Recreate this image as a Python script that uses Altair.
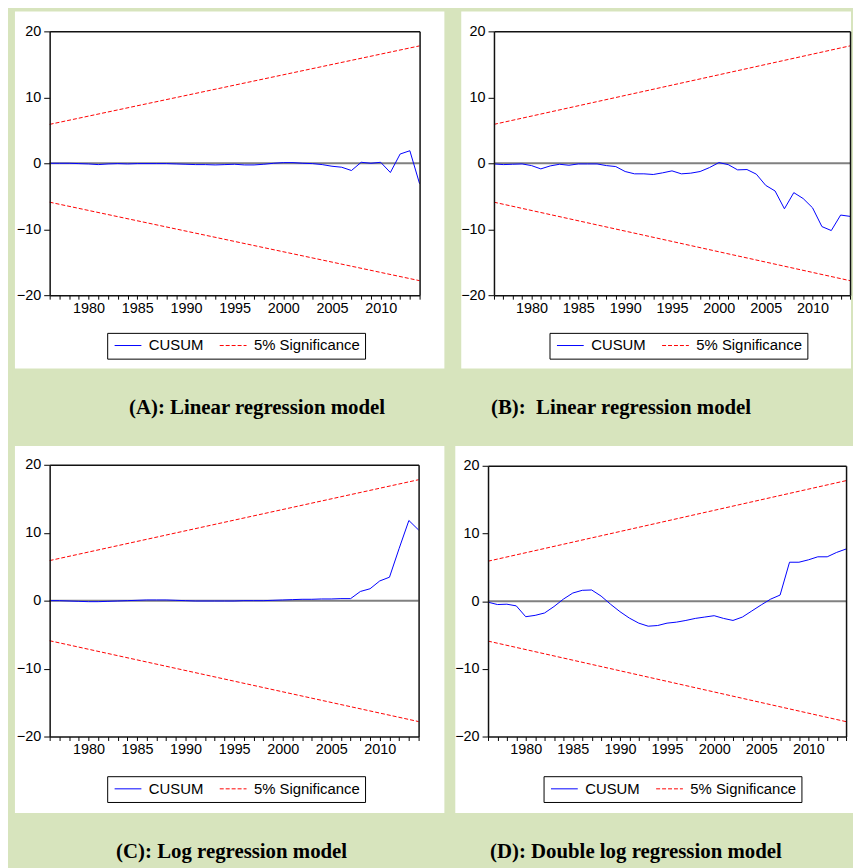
import altair as alt
import pandas as pd

GREEN = "#d7e4bd"
FRAME = "#111111"

years = list(range(1976, 2015))

cusum_a = [0.0, 0.0, 0.0, -0.05, -0.1, -0.2, -0.1, -0.05, -0.1, -0.05,
           -0.05, -0.05, -0.05, -0.1, -0.15, -0.2, -0.2, -0.25, -0.2, -0.15,
           -0.25, -0.25, -0.15, 0.0, 0.1, 0.1, 0.0, -0.05, -0.2, -0.45,
           -0.6, -1.1, 0.15, 0.0, 0.15, -1.4, 1.4, 1.9, -3.1]
cusum_b = [-0.1, -0.2, -0.15, -0.1, -0.35, -0.85, -0.4, -0.15, -0.3, -0.1,
           -0.1, -0.1, -0.35, -0.5, -1.25, -1.6, -1.6, -1.7, -1.45, -1.15,
           -1.6, -1.5, -1.25, -0.65, 0.1, -0.2, -1.0, -0.95, -1.65, -3.35,
           -4.2, -6.9, -4.45, -5.35, -6.75, -9.6, -10.2, -7.85, -8.05]
cusum_c = [0.0, 0.0, -0.05, -0.1, -0.15, -0.15, -0.1, -0.05, 0.0, 0.05,
           0.1, 0.1, 0.1, 0.05, 0.0, -0.05, -0.05, -0.05, -0.05, -0.05,
           0.0, 0.0, 0.0, 0.05, 0.1, 0.15, 0.2, 0.2, 0.25, 0.25,
           0.3, 0.3, 1.35, 1.75, 2.9, 3.45, 7.7, 11.8, 10.4]
cusum_d = [-0.15, -0.5, -0.45, -0.7, -2.3, -2.1, -1.75, -0.8, 0.3, 1.2,
           1.6, 1.65, 0.75, -0.45, -1.55, -2.5, -3.25, -3.7, -3.6, -3.25,
           -3.1, -2.85, -2.55, -2.35, -2.15, -2.55, -2.85, -2.35, -1.45, -0.55,
           0.3, 0.9, 5.75, 5.75, 6.1, 6.55, 6.55, 7.2, 7.7]

band_years = [1976, 2014]
band_upper = [5.9, 17.8]
band_lower = [-5.9, -17.8]

y_ticks = [-20, -10, 0, 10, 20]
series_names = ["CUSUM", "5% Significance"]
series_colors = ["#0000ff", "#ff0000"]
band_dash = [4, 2]
captions = ["(A): Linear regression model",
            "(B):\u00a0 Linear regression model",
            "(C): Log regression model",
            "(D): Double log regression model"]

X_SCALE = alt.Scale(domain=[band_years[0], band_years[-1]], nice=False, zero=False)
Y_SCALE = alt.Scale(domain=[y_ticks[0], y_ticks[-1]], nice=False, zero=False)
S_SCALE = alt.Scale(domain=series_names, range=series_colors)

AXIS_STYLE = dict(title=None, grid=False, zindex=2, labelFont="Liberation Sans",
                  labelFontSize=14.5, labelColor="black", tickColor="black", tickWidth=1,
                  domain=True, domainColor=FRAME, domainWidth=1.5)
X_AXIS = alt.Axis(values=years, labelExpr="datum.value % 5 == 0 ? datum.label : ''",
                  format="d", tickSize=4, labelPadding=2, labelOverlap=False,
                  labelFlush=False, orient="bottom", **AXIS_STYLE)
Y_AXIS = alt.Axis(values=y_ticks, tickSize=6, labelPadding=3, format="d", orient="left",
                  **AXIS_STYLE)
X_TOP = alt.Axis(orient="top", labels=False, ticks=False, title=None, grid=False, zindex=2,
                 domain=True, domainColor=FRAME, domainWidth=1.5)
Y_RIGHT = alt.Axis(orient="right", labels=False, ticks=False, title=None, grid=False, zindex=2,
                   domain=True, domainColor=FRAME, domainWidth=1.5)

DASH_EXPR = "datum.value === '%s' ? [1000, 0] : [%d, %d]" % (
    series_names[0], band_dash[0], band_dash[1])
STROKE_EXPR = "datum.value === '%s' ? '%s' : '%s'" % (
    series_names[0], series_colors[0], series_colors[1])


def panel(cusum, caption, w, h, tile, white, legend_xy, caption_xy):
    one = pd.DataFrame({"k": [0]})
    tile_l = alt.Chart(one).mark_rect(fill=GREEN).encode(
        x=alt.value(tile[0]), x2=alt.value(tile[2]),
        y=alt.value(tile[1]), y2=alt.value(tile[3]))
    white_l = alt.Chart(one).mark_rect(fill="white").encode(
        x=alt.value(white[0]), x2=alt.value(white[2]),
        y=alt.value(white[1]), y2=alt.value(white[3]))
    zero_l = alt.Chart(pd.DataFrame({"zero": [0]})).mark_rule(
        color="#808080", strokeWidth=2).encode(
        y=alt.Y("zero:Q", scale=Y_SCALE, axis=None))

    corner = pd.DataFrame({"x0": [band_years[0]], "y0": [y_ticks[0]]})
    frame_l = alt.Chart(corner).mark_point(opacity=0).encode(
        x=alt.X("x0:Q", scale=X_SCALE, axis=X_TOP),
        y=alt.Y("y0:Q", scale=Y_SCALE, axis=Y_RIGHT))

    band_rows = []
    for yr, v in zip(band_years, band_upper):
        band_rows.append({"year": yr, "value": v, "series": series_names[1], "grp": "u"})
    for yr, v in zip(band_years, band_lower):
        band_rows.append({"year": yr, "value": v, "series": series_names[1], "grp": "l"})
    band_df = pd.DataFrame(band_rows)
    cusum_df = pd.DataFrame({"year": years, "value": cusum,
                             "series": [series_names[0]] * len(years)})

    leg = alt.Legend(orient="none", legendX=legend_xy[0], legendY=legend_xy[1],
                     title=None, direction="horizontal",
                     symbolDash={"expr": DASH_EXPR},
                     symbolStrokeColor={"expr": STROKE_EXPR})
    band_l = alt.Chart(band_df).mark_line(strokeWidth=1, strokeDash=band_dash).encode(
        x=alt.X("year:Q", scale=X_SCALE, axis=None),
        y=alt.Y("value:Q", scale=Y_SCALE, axis=None),
        stroke=alt.Stroke("series:N", legend=leg, scale=S_SCALE),
        detail="grp:N",
    )
    cusum_l = alt.Chart(cusum_df).mark_line(strokeWidth=1).encode(
        x=alt.X("year:Q", scale=X_SCALE, axis=X_AXIS),
        y=alt.Y("value:Q", scale=Y_SCALE, axis=Y_AXIS),
        stroke=alt.Stroke("series:N", legend=leg, scale=S_SCALE),
    )
    cap_l = alt.Chart(pd.DataFrame({"caption": [caption]})).mark_text(
        align="left", baseline="alphabetic", font="Liberation Serif", fontWeight="bold",
        fontSize=21, color="black").encode(
        x=alt.value(caption_xy[0]), y=alt.value(caption_xy[1]), text="caption:N")
    return alt.layer(tile_l, white_l, zero_l, frame_l, cap_l, band_l, cusum_l).resolve_axis(
        x="independent", y="independent").properties(width=w, height=h)


# canvas is 845 x 860 (page minus the 8px margin); tiles fill it exactly
pa = panel(cusum_a, captions[0], 373, 266, (-37, -20, 407, 408), (-35, -20, 398, 340), (58, 304), (80, 386))
pb = panel(cusum_b, captions[1], 359, 266, (-41, -20, 360, 408), (-33, -20, 360, 340), (56, 304), (-3, 386))
pc = panel(cusum_c, captions[2], 372, 274, (-42, -29, 400, 403), (-35, -19, 398, 351), (58, 314), (67, 396))
pd_ = panel(cusum_d, captions[3], 361, 273, (-35, -30, 368, 402), (-33, -20, 368, 350), (56, 313), (2, 395))

chart = alt.concat(pa, pb, pc, pd_, columns=2, spacing=0, align="none").resolve_scale(
    x="independent", y="independent", stroke="independent"
).resolve_legend(
    stroke="independent"
).properties(
    padding=0, background=GREEN
).configure_view(strokeWidth=0, fill="transparent").configure_legend(
    strokeColor="black", fillColor="white", padding=5, cornerRadius=0,
    labelFont="Liberation Sans", labelFontSize=15, labelColor="black",
    symbolType="M-0.714,0H3.143", symbolSize=196, symbolStrokeWidth=1,
    labelOffset=22, columnPadding=14
)

chart.save("out.html", embed_options={"renderer": "svg", "actions": False})
